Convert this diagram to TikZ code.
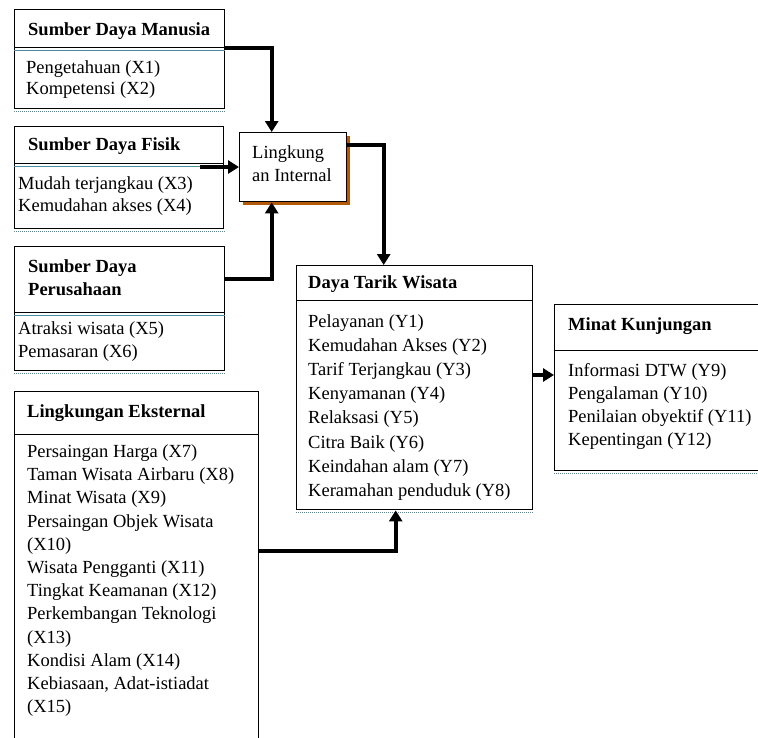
\documentclass[tikz,border=0pt]{standalone}
\usepackage{fontspec}
\setmainfont{Liberation Serif}
\usetikzlibrary{arrows.meta,shadows}
\definecolor{shadowbrown}{HTML}{B35A0A}
\definecolor{rimteal}{HTML}{4A8CA0}

% multi-line labels are placed by the baseline of their last line
\tikzset{
  box/.style={draw=black, line width=1.4pt, rectangle, inner sep=0pt, anchor=north west},
  lbl/.style={anchor=base west, inner sep=0pt, align=left, font=\fontsize{18.5}{23.5}\selectfont},
  hdr/.style={lbl, font=\fontsize{18.5}{23}\selectfont\bfseries},
  conn/.style={line width=4pt, -{Triangle[width=13pt,length=11pt]}},
  rim/.style={rimteal, line width=1pt},
  dotrim/.style={rimteal, line width=1pt, dash pattern=on 1pt off 1pt},
}

\begin{document}
\begin{tikzpicture}[x=1pt, y=-1pt]
\useasboundingbox (0,0) rectangle (758,737);
\clip (0,0) rectangle (758,737);

% Sumber Daya Manusia
\node[box, minimum width=210pt, minimum height=38pt] (sdmhead) at (14,9) {};
\node[box, minimum width=210pt, minimum height=61pt] (sdmbody) at (14,47) {};
\draw[rim] ([yshift=-1.6pt]sdmhead.south west) -- ([yshift=-1.6pt]sdmhead.south east);
\draw[dotrim] ([yshift=-2.5pt]sdmbody.south west) -- ([yshift=-2.5pt]sdmbody.south east);
\node[hdr] (sdmtitle) at (28,35) {Sumber Daya Manusia};
\node[lbl, font=\fontsize{18.5}{21}\selectfont] (sdmitems) at (26,94.5) {Pengetahuan (X1)\\Kompetensi (X2)};

% Sumber Daya Fisik
\node[box, minimum width=209pt, minimum height=37pt] (sdfhead) at (14,126) {};
\node[box, minimum width=209pt, minimum height=65pt] (sdfbody) at (14,163) {};
\draw[rim] ([yshift=-1.6pt]sdfhead.south west) -- ([yshift=-1.6pt]sdfhead.south east);
\draw[dotrim] ([yshift=-2.5pt]sdfbody.south west) -- ([yshift=-2.5pt]sdfbody.south east);
\node[hdr] (sdftitle) at (28,150.5) {Sumber Daya Fisik};
\node[lbl, font=\fontsize{18.5}{22}\selectfont] (sdfitems) at (18,211.5) {Mudah terjangkau (X3)\\Kemudahan akses (X4)};

% Sumber Daya Perusahaan
\node[box, minimum width=210pt, minimum height=66pt] (sdphead) at (14,246) {};
\node[box, minimum width=210pt, minimum height=58pt] (sdpbody) at (14,312) {};
\draw[rim] ([yshift=-1.6pt]sdphead.south west) -- ([yshift=-1.6pt]sdphead.south east);
\draw[dotrim] ([yshift=-2.5pt]sdpbody.south west) -- ([yshift=-2.5pt]sdpbody.south east);
\node[hdr] (sdptitle) at (28,295.5) {Sumber Daya\\Perusahaan};
\node[lbl, font=\fontsize{18.5}{23}\selectfont] (sdpitems) at (18,357.5) {Atraksi wisata (X5)\\Pemasaran (X6)};

% Lingkungan Internal
\node[box, fill=white, minimum width=107pt, minimum height=69pt,
      drop shadow={shadow xshift=3pt, shadow yshift=-3.5pt, fill=shadowbrown, opacity=1}] (lint) at (239,132) {};
\node[lbl, font=\fontsize{18.5}{23}\selectfont] (linttext) at (252,181.5) {Lingkung\\an Internal};

% Daya Tarik Wisata
\node[box, minimum width=236pt, minimum height=35pt] (dtwhead) at (296,265) {};
\node[box, minimum width=236pt, minimum height=209pt] (dtwbody) at (296,300) {};
\draw[dotrim] ([yshift=-2.5pt]dtwbody.south west) -- ([yshift=-2.5pt]dtwbody.south east);
\node[hdr] (dtwtitle) at (308,288.5) {Daya Tarik Wisata};
\node[lbl, font=\fontsize{18.5}{24.1}\selectfont] (dtwitems) at (308,496.2)
  {Pelayanan (Y1)\\Kemudahan Akses (Y2)\\Tarif Terjangkau (Y3)\\Kenyamanan (Y4)\\Relaksasi (Y5)\\Citra Baik (Y6)\\Keindahan alam (Y7)\\Keramahan penduduk (Y8)};

% Minat Kunjungan
\node[box, minimum width=216pt, minimum height=46pt] (minathead) at (554,304) {};
\node[box, minimum width=216pt, minimum height=120pt] (minatbody) at (554,350) {};
\draw[dotrim] ([yshift=-2.5pt]minatbody.south west) -- ([yshift=-2.5pt]minatbody.south east);
\node[hdr] (minattitle) at (568,330.5) {Minat Kunjungan};
\node[lbl, font=\fontsize{18.5}{23}\selectfont] (minatitems) at (568,445.5)
  {Informasi DTW (Y9)\\Pengalaman (Y10)\\Penilaian obyektif (Y11)\\Kepentingan (Y12)};

% Lingkungan Eksternal
\node[box, minimum width=244pt, minimum height=43pt] (lexthead) at (14,391) {};
\node[box, minimum width=244pt, minimum height=330pt] (lextbody) at (14,434) {};
\node[hdr] (lexttitle) at (27,417.5) {Lingkungan Eksternal};
\node[lbl, font=\fontsize{18.5}{23.2}\selectfont] (lextitems) at (27,712.7)
  {Persaingan Harga (X7)\\Taman Wisata Airbaru (X8)\\Minat Wisata (X9)\\Persaingan Objek Wisata\\(X10)\\Wisata Pengganti (X11)\\Tingkat Keamanan (X12)\\Perkembangan Teknologi\\(X13)\\Kondisi Alam (X14)\\Kebiasaan, Adat-istiadat\\(X15)};

% connectors
\coordinate (sdfout) at (200,167);
\draw[conn] (sdmhead.south east) -| ([xshift=-21.5pt]lint.north);
\draw[conn] (sdfout) -- (sdfout -| lint.west);
\draw[conn] ([yshift=-33pt]sdphead.north east) -| ([xshift=-21.5pt]lint.south);
\draw[conn] ([yshift=-13pt]lint.north east) -| ([xshift=-31pt]dtwhead.north);
\draw[conn] ([yshift=-117pt]lextbody.north east) -| ([xshift=-19pt]dtwbody.south);
\draw[conn] ([yshift=-75pt]dtwbody.north east) -- ([yshift=-25pt]minatbody.north west);
\end{tikzpicture}
\end{document}
